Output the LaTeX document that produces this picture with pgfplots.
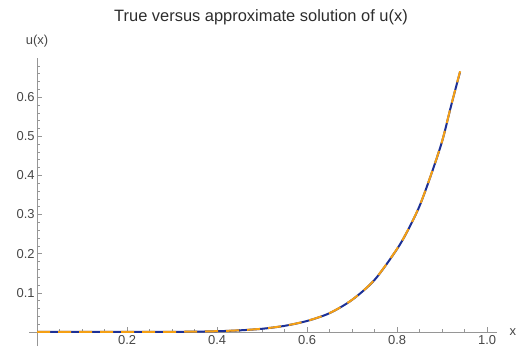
\documentclass[border=0pt]{standalone}
\usepackage{pgfplots}
\pgfplotsset{compat=1.18}
\usepackage{fontspec}
\setmainfont{Liberation Sans}
\definecolor{trueblue}{RGB}{28,48,150}
\definecolor{approxorange}{RGB}{245,160,20}
\definecolor{axisgray}{RGB}{150,150,150}
\definecolor{labelgray}{RGB}{70,70,70}
\definecolor{titlegray}{RGB}{45,45,45}
\pgfplotstableread{
x u
0.00 0.0000
0.10 0.0000
0.20 0.0000
0.30 0.0002
0.35 0.0007
0.40 0.0017
0.45 0.0040
0.50 0.0080
0.55 0.0155
0.60 0.0280
0.65 0.0480
0.70 0.0820
0.75 0.1330
0.80 0.2120
0.825 0.2620
0.85 0.3220
0.875 0.4000
0.90 0.4870
0.92 0.5780
0.94 0.6650
}\truedata
\pgfplotstableread{
x u
0.00 0.0000
0.10 0.0000
0.20 0.0000
0.30 0.0002
0.35 0.0008
0.40 0.0019
0.45 0.0042
0.50 0.0082
0.55 0.0157
0.60 0.0282
0.65 0.0482
0.70 0.0822
0.75 0.1335
0.80 0.2125
0.825 0.2625
0.85 0.3225
0.875 0.4005
0.90 0.4875
0.92 0.5785
0.94 0.6660
}\approxdata
\begin{document}
\begin{tikzpicture}
\useasboundingbox (-29bp,-10bp) rectangle (488bp,346bp);
\begin{axis}[
  scale only axis,
  width=468bp, height=288bp,
  xmin=-0.018, xmax=1.022,
  ymin=-0.036, ymax=0.70,
  axis lines=middle,
  axis line style={axisgray, line width=0.6bp, -},
  every tick/.style={axisgray, line width=0.5bp},
  tick align=inside,
  major tick length=5bp,
  minor tick length=3bp,
  xtick={0.2,0.4,0.6,0.8,1.0},
  xticklabels={0.2,0.4,0.6,0.8,1.0},
  minor xtick={0.05,0.1,0.15,0.25,0.3,0.35,0.45,0.5,0.55,0.65,0.7,0.75,0.85,0.9,0.95},
  ytick={0.1,0.2,0.3,0.4,0.5,0.6},
  yticklabels={0.1,0.2,0.3,0.4,0.5,0.6},
  minor ytick={0.02,0.04,0.06,0.08,0.12,0.14,0.16,0.18,0.22,0.24,0.26,0.28,0.32,0.34,0.36,0.38,0.42,0.44,0.46,0.48,0.52,0.54,0.56,0.58,0.62,0.64,0.66,0.68},
  tick label style={font=\fontsize{13}{14}\selectfont, text=labelgray},
  xticklabel style={yshift=0bp},
  yticklabel style={xshift=1bp},
  xlabel={x}, ylabel={u(x)},
  label style={font=\fontsize{13}{14}\selectfont, text=labelgray},
  xlabel style={at={(axis description cs:1,0.048)}, anchor=west, xshift=9bp},
  ylabel style={at={(axis description cs:0.0171,1)}, anchor=south, yshift=7bp},
  title={True versus approximate solution of u(x)},
  title style={font=\fontsize{16.5}{18}\selectfont, text=titlegray, at={(axis description cs:0.5,1)}, anchor=south, yshift=24bp, xshift=-2bp},
  clip=false,
]
\addplot[trueblue, line width=2bp, smooth] table[x=x,y=u] {\truedata};
\addplot[approxorange, line width=2bp, smooth, dash pattern=on 13bp off 8bp] table[x=x,y=u] {\approxdata};
\end{axis}
\end{tikzpicture}
\end{document}
